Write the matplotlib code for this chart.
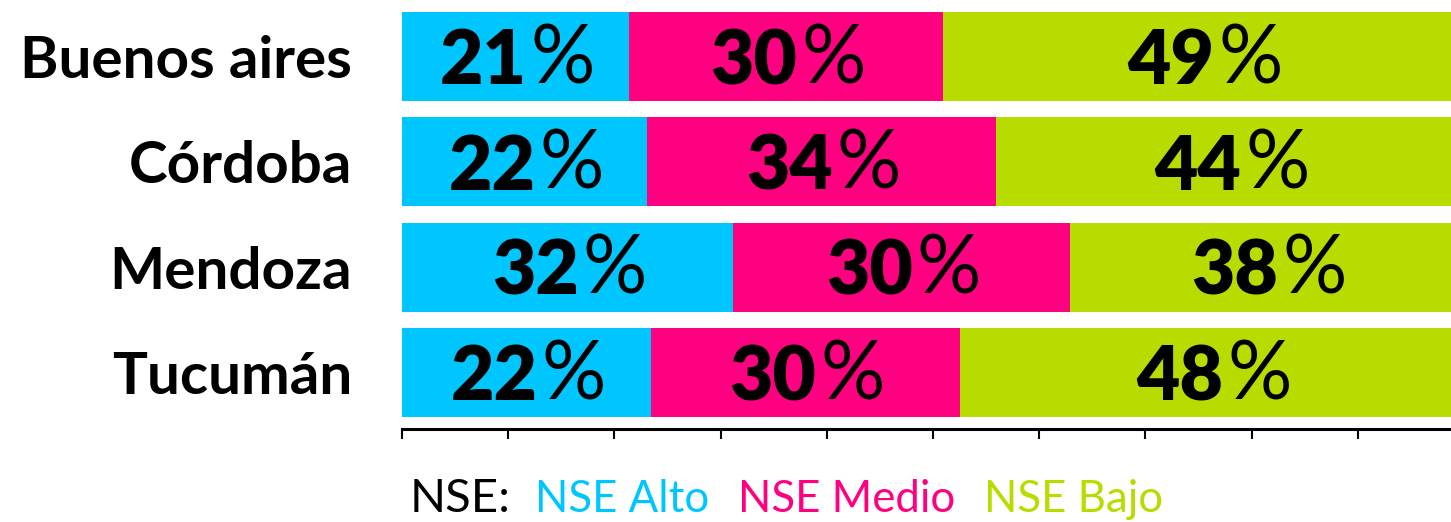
import matplotlib
matplotlib.use("Agg")
import matplotlib.pyplot as plt

# ---- data ----
regions = ["Buenos aires", "Córdoba", "Mendoza", "Tucumán"]
alto = [21.4, 23.1, 31.2, 23.4]
medio = [29.5, 32.8, 31.7, 29.1]
bajo = [49.1, 44.1, 37.1, 47.5]
alto_lbl = [21, 22, 32, 22]
medio_lbl = [30, 34, 30, 30]
bajo_lbl = [49, 44, 38, 48]
series_names = ["NSE Alto", "NSE Medio", "NSE Bajo"]
colors = ["#00C6FF", "#FF0081", "#B9DC00"]
ticks = [0, 10, 20, 30, 40, 50, 60, 70, 80, 90, 100]

FONT = "Lato"

W, H, DPI = 1451, 522, 100
fig = plt.figure(figsize=(W / DPI, H / DPI), dpi=DPI)
ax = fig.add_axes([402 / W, (H - 429) / H, 1062 / W, 429 / H])

ys = list(range(len(regions)))
left = [0] * len(regions)
for vals, lbls, col in zip([alto, medio, bajo], [alto_lbl, medio_lbl, bajo_lbl], colors):
    ax.barh(ys, vals, left=left, height=0.845, color=col, edgecolor="none")
    for y, v, l, lb in zip(ys, vals, left, lbls):
        cx = l + v / 2
        t = ax.annotate(str(lb), xy=(cx, y), xytext=(8, -20), textcoords="offset points",
                        ha="right", va="baseline", fontsize=54, fontfamily=FONT,
                        fontweight="heavy", color="black")
        ax.annotate("%", xy=(1, 0), xycoords=t, xytext=(3, 0), textcoords="offset points",
                    ha="left", va="bottom", fontsize=58, fontfamily=FONT,
                    fontweight="normal", color="black")
    left = [a + b for a, b in zip(left, vals)]

ax.set_xlim(0, 100)
ax.set_ylim(len(regions) - 0.464, -0.536)
ax.set_yticks(ys)
ax.set_yticklabels(regions, fontfamily=FONT, fontweight="bold", fontsize=42)
ax.tick_params(axis="y", length=0, pad=36)
ax.set_xticks(ticks)
ax.set_xticklabels([])
ax.tick_params(axis="x", direction="out", length=7.5, width=1.5, color="black")
for s in ["top", "right", "left"]:
    ax.spines[s].set_visible(False)
ax.spines["bottom"].set_linewidth(2.2)
ax.spines["bottom"].set_color("black")

# legend as a row of coloured text
t0 = fig.text(410 / W, (H - 512) / H, "NSE:", fontsize=34, fontfamily=FONT,
              fontweight="normal", color="black", ha="left", va="baseline")
prev = t0
gaps = [17, 21, 21]
for name, col, g in zip(series_names, colors, gaps):
    prev = ax.annotate(name, xy=(1, 0), xycoords=prev, xytext=(g, 0),
                       textcoords="offset points", ha="left", va="bottom",
                       fontsize=31.5, fontfamily=FONT, fontweight="normal", color=col,
                       annotation_clip=False)

fig.savefig("out.png", dpi=DPI)
